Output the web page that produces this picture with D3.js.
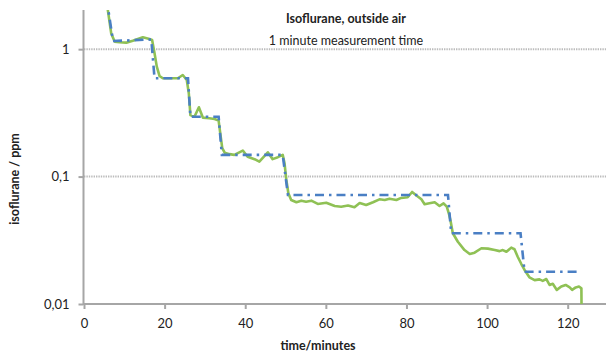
<!DOCTYPE html>
<html><head><meta charset="utf-8">
<script src="https://cdn.jsdelivr.net/npm/d3@7"></script>
<style>body{margin:0;background:#fff}svg{display:block}text{font-family:Lato,"Open Sans",sans-serif;fill:#222}</style>
</head><body>
<script>
// measured isoflurane (green)
const measuredTime = [5.5,6.75,7.6,8.8,10.5,12.1,14.6,16.25,16.9,17.5,18.06,18.73,19.55,21.2,23.3,24.5,25.5,26.0,26.4,27.4,28.5,29.5,31.1,32.4,33.4,33.8,34.3,34.9,36.1,37.3,39.4,40.6,42.3,43.5,45.6,46.8,48.1,49.3,49.75,50.2,50.7,51.4,52.7,53.9,55.1,56.4,58.0,60.1,62.2,63.8,65.5,67.1,68.4,70.0,71.7,73.3,74.6,75.8,77.5,78.7,80.3,81.4,82.4,83.7,84.5,85.7,87.0,88.2,89.2,90.0,90.5,90.9,91.5,92.75,94.4,95.7,96.9,98.6,100.2,101.9,103.1,103.9,104.8,106.0,106.8,107.6,108.5,109.3,110.5,111.8,113.0,113.8,114.7,115.5,116.3,117.3,118.4,119.5,120.5,121.1,122.0,122.8,123.4,123.5];
const measuredValue = [2.5,1.33,1.146,1.133,1.125,1.166,1.24,1.20,1.18,0.929,0.729,0.616,0.591,0.591,0.591,0.627,0.573,0.451,0.304,0.295,0.350,0.290,0.287,0.283,0.275,0.219,0.167,0.154,0.150,0.148,0.160,0.143,0.137,0.131,0.155,0.137,0.142,0.148,0.127,0.094,0.074,0.0655,0.0629,0.0647,0.0635,0.0647,0.061,0.0624,0.0588,0.058,0.0593,0.0574,0.062,0.0598,0.0629,0.0663,0.0655,0.0671,0.0655,0.068,0.0688,0.0757,0.0713,0.0663,0.0606,0.0617,0.0629,0.0588,0.0617,0.058,0.0515,0.0456,0.0359,0.0308,0.0265,0.0247,0.0253,0.0274,0.0272,0.0265,0.026,0.0265,0.0257,0.0277,0.0269,0.0235,0.0206,0.0185,0.0162,0.0154,0.0156,0.0152,0.0157,0.0141,0.0144,0.0129,0.0137,0.0141,0.0135,0.0129,0.0135,0.0137,0.0133,0.005];
// nominal concentration steps (blue dash-dot)
const nominalTime = [5.6,7.2,16.7,17.5,25.8,26.4,33.4,34.2,49.3,50.6,90.3,91.1,108.3,109.3,122.4];
const nominalValue = [2.5,1.16,1.19,0.591,0.591,0.295,0.295,0.148,0.148,0.0717,0.0717,0.0359,0.0359,0.0179,0.0179];
const xTicks = [0,20,40,60,80,100,120];
const yTicks = [0.01,0.1,1];
const yTickLabels = ["0,01","0,1","1"];
const titleText = "Isoflurane, outside air";
const subtitleText = "1 minute measurement time";
const xLabel = "time/minutes";
const yLabel = "isoflurane / ppm";

const W = 606, H = 353;
const x = d3.scaleLinear().domain([0,130]).range([84,608]);
const y = d3.scaleLog().domain([0.01,2]).range([304,10.8]);
const svg = d3.select("body").append("svg").attr("width",W).attr("height",H);

svg.append("defs").append("clipPath").attr("id","plot")
  .append("rect").attr("x",84).attr("y",10).attr("width",W-84).attr("height",294);

// gridlines
svg.append("g").selectAll("line").data([0.1,1]).join("line")
  .attr("x1",84).attr("x2",W).attr("y1",d=>y(d)).attr("y2",d=>y(d))
  .attr("stroke","#bcbcbc").attr("stroke-width",2).attr("stroke-dasharray","1.4,1");

// axes
const xAxis = d3.axisBottom(x).tickValues(xTicks).tickSize(5).tickPadding(10).tickFormat(d3.format("d"));
const gx = svg.append("g").attr("transform","translate(0,304)").call(xAxis);
gx.select(".domain").attr("d","M83,0H"+W).attr("stroke","#a6a6a6").attr("stroke-width",2);
gx.selectAll(".tick line").attr("stroke","#a6a6a6").attr("stroke-width",2);
gx.selectAll("text").attr("font-size",13).style("fill","#222");

const yAxis = d3.axisLeft(y).tickValues(yTicks).tickSize(5).tickPadding(9).tickFormat((d,i)=>yTickLabels[i]);
const gy = svg.append("g").attr("transform","translate(83.5,0)").call(yAxis);
gy.select(".domain").attr("d","M0,10V305").attr("stroke","#a6a6a6").attr("stroke-width",2);
gy.selectAll(".tick line").attr("stroke","#a6a6a6").attr("stroke-width",2);
gy.selectAll("text").attr("font-size",13).style("fill","#222");

const g = svg.append("g").attr("clip-path","url(#plot)");
const measured = measuredTime.map((t,i)=>[t,measuredValue[i]]);
const nominal = nominalTime.map((t,i)=>[t,nominalValue[i]]);
const line = d3.line().x(d=>x(d[0])).y(d=>y(d[1]));
g.append("path").attr("d",line(measured)).attr("fill","none")
  .attr("stroke","#8fc155").attr("stroke-width",2.6).attr("stroke-linejoin","round");
g.append("path").attr("d",line(nominal)).attr("fill","none")
  .attr("stroke","#4a7fc4").attr("stroke-width",2.6).attr("stroke-dasharray","9,5,2.5,5");

// texts
svg.append("text").attr("x",346).attr("y",23).attr("text-anchor","middle")
  .attr("font-size",12.5).attr("font-weight","bold").text(titleText);
svg.append("text").attr("x",346).attr("y",45).attr("text-anchor","middle")
  .attr("font-size",12.5).text(subtitleText);
svg.append("text").attr("x",318).attr("y",350).attr("text-anchor","middle")
  .attr("font-size",12.5).attr("font-weight","bold").text(xLabel);
svg.append("text").attr("transform","translate(19,179) rotate(-90)").attr("text-anchor","middle")
  .attr("font-size",12.5).attr("font-weight","bold").text(yLabel);
</script>
</body></html>
